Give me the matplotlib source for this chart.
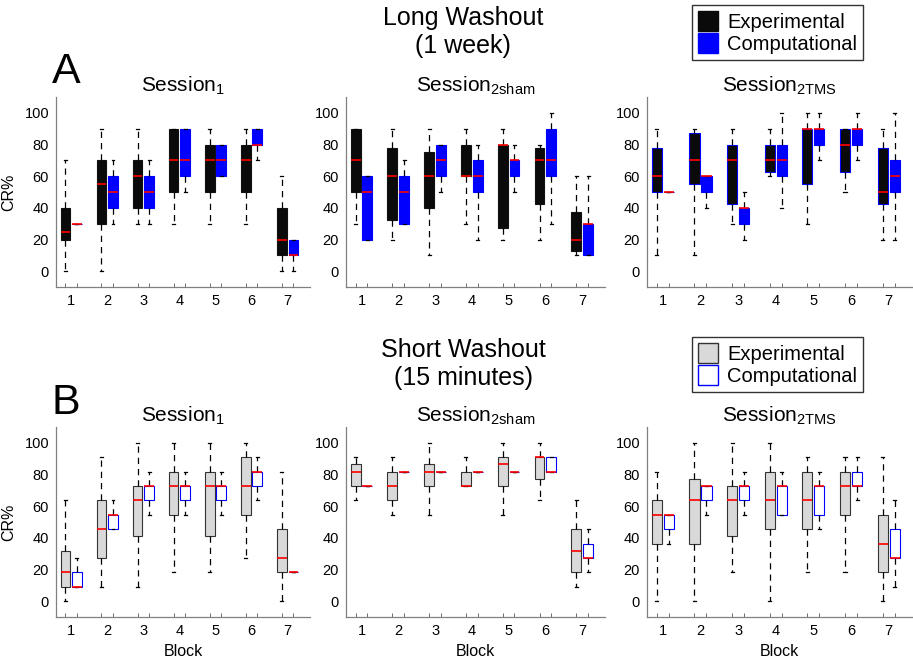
import matplotlib.pyplot as plt
from matplotlib.patches import Patch

plt.rcParams['font.family'] = ['Liberation Sans', 'DejaVu Sans']
plt.rcParams['mathtext.fontset'] = 'custom'
plt.rcParams['mathtext.rm'] = 'Liberation Sans'
plt.rcParams['mathtext.it'] = 'Liberation Sans:italic'

blocks = [1, 2, 3, 4, 5, 6, 7]
session_titles = [r'Session$_{\mathrm{1}}$', r'Session$_{\mathrm{2sham}}$', r'Session$_{\mathrm{2TMS}}$']
group_labels = ['Experimental', 'Computational']

# each row: whisker low, q1, median, q3, whisker high
long_s1_exp = [[0, 20, 25, 40, 70], [0, 30, 55, 70, 90], [30, 40, 60, 70, 90], [30, 50, 70, 90, 90],
               [30, 50, 70, 80, 90], [30, 50, 70, 80, 90], [0, 10, 20, 40, 60]]
long_s1_comp = [[30, 30, 30, 30, 30], [30, 40, 50, 60, 70], [30, 40, 50, 60, 70], [50, 60, 70, 90, 90],
                [60, 60, 70, 80, 80], [70, 80, 80, 90, 90], [0, 10, 10, 20, 20]]
long_s2sham_exp = [[30, 50, 70, 90, 90], [20, 32.5, 60, 77.5, 90], [10, 40, 60, 75, 90], [30, 60, 60, 80, 90],
                   [20, 27.5, 80, 80, 90], [20, 42.5, 70, 77.5, 80], [10, 12.5, 20, 37.5, 60]]
long_s2sham_comp = [[20, 20, 50, 60, 60], [30, 30, 50, 60, 70], [50, 60, 70, 80, 80], [20, 50, 60, 70, 80],
                    [50, 60, 70, 70, 80], [30, 60, 70, 90, 100], [10, 10, 30, 30, 60]]
long_s2tms_exp = [[10, 50, 60, 77.5, 90], [10, 55, 70, 87.5, 90], [30, 42.5, 70, 80, 90], [60, 62.5, 70, 80, 90],
                  [30, 55, 90, 90, 100], [50, 62.5, 80, 90, 90], [20, 42.5, 50, 77.5, 90]]
long_s2tms_comp = [[50, 50, 50, 50, 50], [40, 50, 60, 60, 60], [20, 30, 40, 40, 50], [40, 60, 70, 80, 100],
                   [70, 80, 90, 90, 100], [70, 80, 90, 90, 100], [20, 50, 60, 70, 100]]

short_s1_exp = [[0, 9.1, 18.2, 31.8, 63.6], [9.1, 27.3, 45.5, 63.6, 90.9], [9.1, 40.9, 63.6, 72.7, 100],
                [18.2, 54.5, 72.7, 81.8, 100], [18.2, 40.9, 72.7, 81.8, 100], [27.3, 54.5, 72.7, 90.9, 100],
                [0, 18.2, 27.3, 45.5, 81.8]]
short_s1_comp = [[9.1, 9.1, 9.1, 18.2, 27.3], [45.5, 45.5, 54.5, 54.5, 63.6], [54.5, 63.6, 72.7, 72.7, 81.8],
                 [54.5, 63.6, 72.7, 72.7, 81.8], [54.5, 63.6, 72.7, 72.7, 81.8], [63.6, 72.7, 81.8, 81.8, 90.9],
                 [18.2, 18.2, 18.2, 18.2, 18.2]]
short_s2sham_exp = [[63.6, 72.7, 81.8, 86.4, 90.9], [54.5, 63.6, 72.7, 81.8, 90.9], [54.5, 72.7, 81.8, 86.4, 100],
                    [72.7, 72.7, 72.7, 81.8, 90.9], [54.5, 72.7, 86.4, 90.9, 100], [63.6, 77.3, 90.9, 90.9, 100],
                    [9.1, 18.2, 31.8, 45.5, 63.6]]
short_s2sham_comp = [[72.7, 72.7, 72.7, 72.7, 72.7], [81.8, 81.8, 81.8, 81.8, 81.8], [81.8, 81.8, 81.8, 81.8, 81.8],
                     [81.8, 81.8, 81.8, 81.8, 81.8], [81.8, 81.8, 81.8, 81.8, 81.8], [81.8, 81.8, 81.8, 90.9, 90.9],
                     [18.2, 27.3, 27.3, 36.4, 45.5]]
short_s2tms_exp = [[0, 36.4, 54.5, 63.6, 81.8], [0, 36.4, 63.6, 77.3, 100], [18.2, 40.9, 63.6, 72.7, 100],
                   [0, 45.5, 63.6, 81.8, 100], [18.2, 45.5, 63.6, 81.8, 90.9], [18.2, 54.5, 72.7, 81.8, 90.9],
                   [0, 18.2, 36.4, 54.5, 90.9]]
short_s2tms_comp = [[36.4, 45.5, 54.5, 54.5, 54.5], [54.5, 63.6, 72.7, 72.7, 72.7], [54.5, 63.6, 72.7, 72.7, 81.8],
                    [54.5, 54.5, 72.7, 72.7, 81.8], [45.5, 54.5, 72.7, 72.7, 81.8], [63.6, 72.7, 72.7, 81.8, 90.9],
                    [9.1, 27.3, 27.3, 45.5, 63.6]]

long_data = [(long_s1_exp, long_s1_comp), (long_s2sham_exp, long_s2sham_comp), (long_s2tms_exp, long_s2tms_comp)]
short_data = [(short_s1_exp, short_s1_comp), (short_s2sham_exp, short_s2sham_comp),
              (short_s2tms_exp, short_s2tms_comp)]

W, H = 913, 661
fig = plt.figure(figsize=(W / 100, H / 100), dpi=100)

# axes boxes in pixels: left, width
cols = [(56, 254), (346, 259), (647, 265)]
rows = [(97, 287), (427, 617)]  # top, bottom pixel


def to_stats(rows_):
    return [dict(whislo=r[0], q1=r[1], med=r[2], q3=r[3], whishi=r[4], fliers=[]) for r in rows_]


def draw_panel(ax, exp, comp, exp_face, exp_edge, comp_face, comp_edge):
    off = 0.16
    common = dict(widths=0.27, patch_artist=True, showfliers=False, manage_ticks=False, capwidths=0.08,
                  whiskerprops=dict(color='k', linestyle=(0, (5, 4)), linewidth=0.9),
                  capprops=dict(color='k', linewidth=0.9),
                  medianprops=dict(color='red', linewidth=1.2))
    ax.bxp(to_stats(exp), positions=[b - off for b in blocks],
           boxprops=dict(facecolor=exp_face, edgecolor=exp_edge, linewidth=0.8), **common)
    ax.bxp(to_stats(comp), positions=[b + off for b in blocks],
           boxprops=dict(facecolor=comp_face, edgecolor=comp_edge, linewidth=0.8), **common)
    ax.set_xlim(0.58, 7.62)
    ax.set_ylim(-10, 110)
    ax.set_yticks([0, 20, 40, 60, 80, 100])
    ax.set_xticks(blocks)
    ax.set_xticks([b - off for b in blocks] + [b + off for b in blocks], minor=True)
    ax.tick_params(axis='x', which='major', length=0, labelsize=10.5, pad=5)
    ax.tick_params(axis='x', which='minor', direction='in', length=3, color='#555555')
    ax.tick_params(axis='y', length=0, labelsize=10.5, pad=5)
    for s in ['top', 'right']:
        ax.spines[s].set_visible(False)
    for s in ['left', 'bottom']:
        ax.spines[s].set_color('#808080')
        ax.spines[s].set_linewidth(0.9)


for r, (top, bot) in enumerate(rows):
    data = long_data if r == 0 else short_data
    for c, (left, width) in enumerate(cols):
        ax = fig.add_axes([left / W, 1 - bot / H, width / W, (bot - top) / H])
        exp, comp = data[c]
        if r == 0:
            edge = 'blue' if c == 2 else '#111111'
            draw_panel(ax, exp, comp, '#0a0a0a', edge, '#0000ff', '#0000ff')
        else:
            draw_panel(ax, exp, comp, '#d9d9d9', '#333333', 'white', '#0000ff')
        ax.set_title(session_titles[c], fontsize=15, pad=2)
        if c == 0:
            ax.set_ylabel('CR%', fontsize=11.5, labelpad=6)
        if r == 1:
            ax.set_xlabel('Block', fontsize=11.5, labelpad=4)

# row headers
fig.text(463 / W, 1 - 18 / H, 'Long Washout', ha='center', va='center', fontsize=18)
fig.text(463 / W, 1 - 46 / H, '(1 week)', ha='center', va='center', fontsize=18)
fig.text(66 / W, 1 - 72 / H, 'A', ha='center', va='center', fontsize=31)
fig.text(463 / W, 1 - 350 / H, 'Short Washout', ha='center', va='center', fontsize=18)
fig.text(463 / W, 1 - 378 / H, '(15 minutes)', ha='center', va='center', fontsize=18)
fig.text(66 / W, 1 - 403 / H, 'B', ha='center', va='center', fontsize=31)

leg_kw = dict(loc='upper left', fontsize=14.5, frameon=True, fancybox=False, framealpha=1,
              edgecolor='#333333', handlelength=1.0, handleheight=1.15, handletextpad=0.45,
              labelspacing=0.05, borderpad=0.3, borderaxespad=0)
h_long = [Patch(facecolor='#0a0a0a', edgecolor='#0a0a0a'), Patch(facecolor='#0000ff', edgecolor='#0000ff')]
leg1 = fig.legend(h_long, group_labels, bbox_to_anchor=(692 / W, 1 - 5 / H), **leg_kw)
leg1.get_frame().set_linewidth(1.0)
h_short = [Patch(facecolor='#d9d9d9', edgecolor='#333333'), Patch(facecolor='white', edgecolor='#0000ff')]
leg2 = fig.legend(h_short, group_labels, bbox_to_anchor=(692 / W, 1 - 337 / H), **leg_kw)
leg2.get_frame().set_linewidth(1.0)

fig.savefig('out.png', dpi=100)
